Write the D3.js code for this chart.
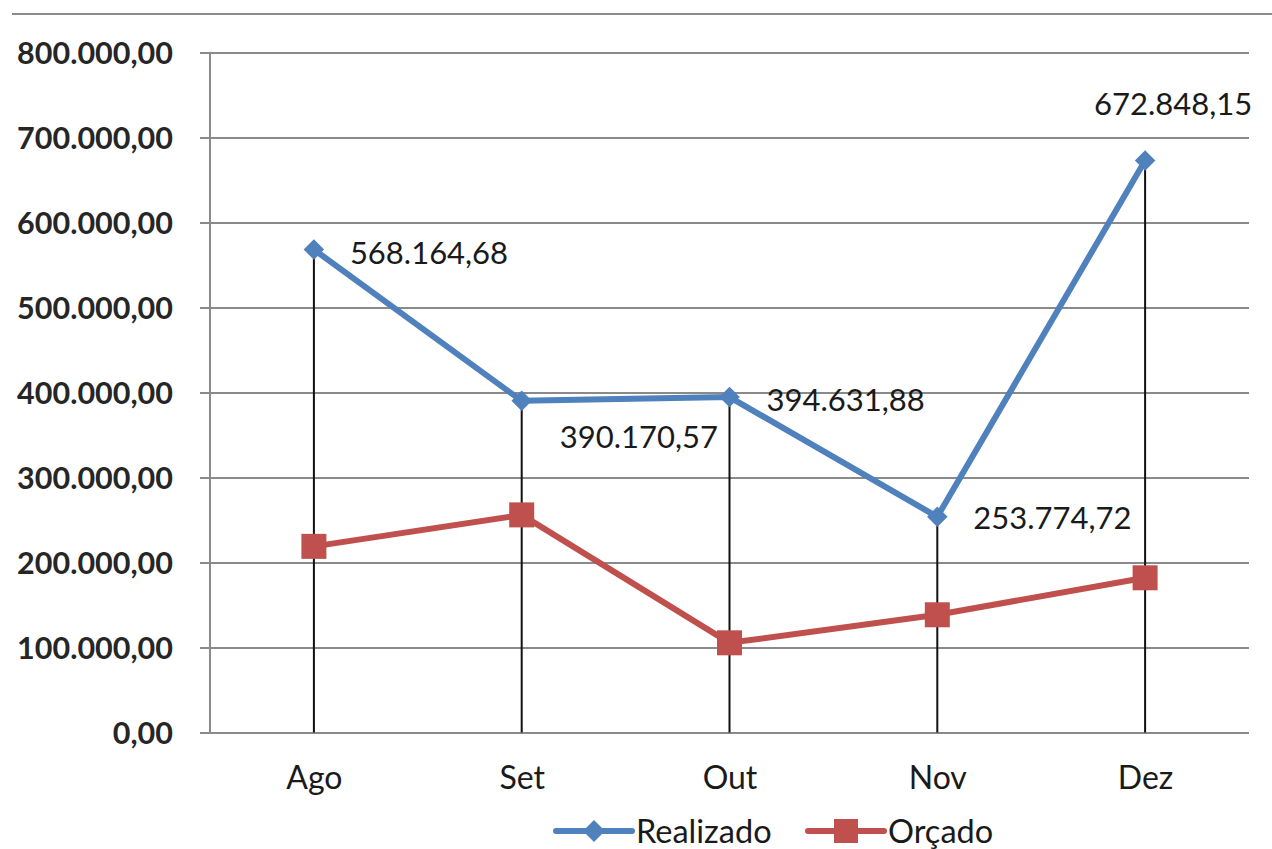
<!DOCTYPE html>
<html>
<head>
<meta charset="utf-8">
<script src="https://cdn.jsdelivr.net/npm/d3@7"></script>
<style>
  html, body { margin: 0; padding: 0; background: #ffffff; }
  svg { display: block; }
  text { font-family: Lato, "Open Sans", "DejaVu Sans", sans-serif; fill: #1a1a1a; }
</style>
</head>
<body>
<svg id="chart" width="1272" height="849"></svg>
<script>
// Monthly values
const months = ["Ago", "Set", "Out", "Nov", "Dez"];
const realizado = [568164.68, 390170.57, 394631.88, 253774.72, 672848.15];
const orcado = [219000, 256000, 105500, 138500, 182000];
const yTicks = [0, 100000, 200000, 300000, 400000, 500000, 600000, 700000, 800000];
const seriesNames = ["Realizado", "Orçado"];

const blue = "#4F81BD";
const red = "#C0504D";
const grid = "#8a8a8a";

const svg = d3.select("#chart");

const plot = { left: 210, right: 1249, top: 52.5, bottom: 732.5 };

const x = d3.scalePoint().domain(months).range([plot.left, plot.right]).padding(0.5);
const y = d3.scaleLinear().domain([0, 800000]).range([plot.bottom, plot.top]);

// pt-BR number format: 1.234,56
const fmt = v => {
  const [int, dec] = Math.abs(v).toFixed(2).split(".");
  return int.replace(/\B(?=(\d{3})+(?!\d))/g, ".") + "," + dec;
};

// Top rule
svg.append("line")
  .attr("x1", 12).attr("x2", 1272).attr("y1", 14).attr("y2", 14)
  .attr("stroke", "#8c8c8c").attr("stroke-width", 2);

// Horizontal gridlines with tick stubs and y labels
const yAxis = d3.axisLeft(y)
  .tickValues(yTicks)
  .tickSize(-(plot.right - plot.left))
  .tickFormat(fmt);
const gy = svg.append("g")
  .attr("transform", `translate(${plot.left},0)`)
  .call(yAxis);
gy.select(".domain").remove();
gy.selectAll(".tick line")
  .attr("x1", -10)
  .attr("stroke", grid).attr("stroke-width", 2);
gy.selectAll(".tick text")
  .attr("x", -37)
  .attr("dy", "0.36em")
  .style("font-size", "30.5px")
  .style("font-weight", "700")
  .style("fill", "#262626");

// Vertical axis line
svg.append("line")
  .attr("x1", plot.left).attr("x2", plot.left)
  .attr("y1", plot.top).attr("y2", plot.bottom)
  .attr("stroke", grid).attr("stroke-width", 2);

// x labels
const gx = svg.append("g")
  .attr("transform", `translate(0,${plot.bottom})`)
  .call(d3.axisBottom(x).tickSize(0).tickPadding(0));
gx.select(".domain").remove();
gx.selectAll(".tick text")
  .attr("y", 45)
  .attr("dy", "0.36em")
  .style("font-size", "32px");

// Drop lines from Realizado points to baseline
svg.append("g").selectAll("line")
  .data(months)
  .join("line")
  .attr("x1", d => x(d)).attr("x2", d => x(d))
  .attr("y1", (d, i) => y(realizado[i]))
  .attr("y2", plot.bottom)
  .attr("stroke", "#111").attr("stroke-width", 2);

const line = d3.line().x((d, i) => x(months[i])).y(d => y(d));

// Orçado series
svg.append("path")
  .datum(orcado)
  .attr("d", line)
  .attr("fill", "none")
  .attr("stroke", red).attr("stroke-width", 6)
  .attr("stroke-linejoin", "round");
svg.append("g").selectAll("rect")
  .data(orcado)
  .join("rect")
  .attr("x", (d, i) => x(months[i]) - 12.5)
  .attr("y", d => y(d) - 12.5)
  .attr("width", 25).attr("height", 25)
  .attr("fill", red);

// Realizado series
svg.append("path")
  .datum(realizado)
  .attr("d", line)
  .attr("fill", "none")
  .attr("stroke", blue).attr("stroke-width", 6)
  .attr("stroke-linejoin", "round");
svg.append("g").selectAll("path")
  .data(realizado)
  .join("path")
  .attr("transform", (d, i) => `translate(${x(months[i])},${y(d)}) rotate(45)`)
  .attr("d", d3.symbol().type(d3.symbolSquare).size(210))
  .attr("fill", blue);

// Data labels for Realizado
const labelOffsets = [
  { dx: 36, dy: 3, anchor: "start" },
  { dx: 38, dy: 36, anchor: "start" },
  { dx: 37, dy: 3, anchor: "start" },
  { dx: 36, dy: 1, anchor: "start" },
  { dx: 28, dy: -57, anchor: "middle" }
];
svg.append("g").selectAll("text")
  .data(realizado)
  .join("text")
  .attr("x", (d, i) => x(months[i]) + labelOffsets[i].dx)
  .attr("y", (d, i) => y(d) + labelOffsets[i].dy)
  .attr("dy", "0.36em")
  .attr("text-anchor", (d, i) => labelOffsets[i].anchor)
  .style("font-size", "31px")
  .text(d => fmt(d));

// Legend
const legend = svg.append("g").attr("transform", "translate(0,831)");
const items = [
  { name: seriesNames[0], color: blue, x0: 556, shape: "diamond" },
  { name: seriesNames[1], color: red, x0: 808, shape: "square" }
];
items.forEach(it => {
  const g = legend.append("g");
  g.append("line")
    .attr("x1", it.x0).attr("x2", it.x0 + 76)
    .attr("y1", 0).attr("y2", 0)
    .attr("stroke", it.color).attr("stroke-width", 6)
    .attr("stroke-linecap", "round");
  if (it.shape === "diamond") {
    g.append("path")
      .attr("transform", `translate(${it.x0 + 38},0) rotate(45)`)
      .attr("d", d3.symbol().type(d3.symbolSquare).size(240))
      .attr("fill", it.color);
  } else {
    g.append("rect")
      .attr("x", it.x0 + 38 - 12).attr("y", -12)
      .attr("width", 24).attr("height", 24)
      .attr("fill", it.color);
  }
  g.append("text")
    .attr("x", it.x0 + 80)
    .attr("y", 0)
    .attr("dy", "0.36em")
    .style("font-size", "32.5px")
    .text(it.name);
});
</script>
</body>
</html>
